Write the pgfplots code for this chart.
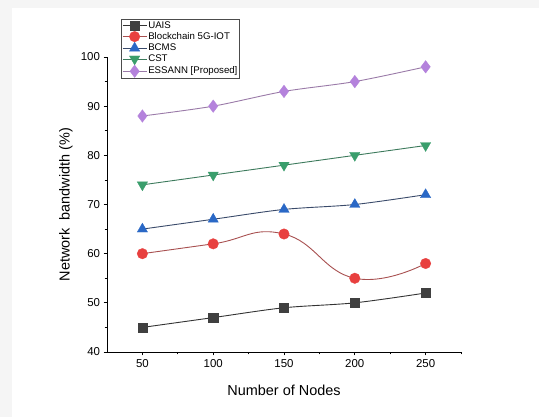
\documentclass[border=0pt]{standalone}
\usepackage{pgfplots}
\pgfplotsset{compat=1.18}
\usepackage{fontspec}
\setmainfont{Liberation Sans}
\definecolor{uaisM}{HTML}{404040}
\definecolor{uaisL}{HTML}{333333}
\definecolor{bcM}{HTML}{E8403F}
\definecolor{bcL}{HTML}{A85050}
\definecolor{bcmsM}{HTML}{2A68C6}
\definecolor{bcmsL}{HTML}{3A4A6A}
\definecolor{cstM}{HTML}{3A9E6C}
\definecolor{cstL}{HTML}{3C7A5C}
\definecolor{esM}{HTML}{B482DC}
\definecolor{esL}{HTML}{9A7AA8}
\begin{document}
\begin{tikzpicture}[x=1bp,y=1bp]
\fill[black!4] (0,0) rectangle (539,417);
\fill[white] (12,0) rectangle (539,409);
\path[use as bounding box] (0,0) rectangle (539,417);
\begin{axis}[
  at={(107bp,65bp)}, anchor=south west,
  scale only axis, width=354bp, height=295bp,
  xmin=25, xmax=275, ymin=40, ymax=100,
  xtick={50,100,150,200,250}, ytick={40,50,60,70,80,90,100},
  minor xtick={75,125,175,225,275}, minor ytick={45,55,65,75,85,95},
  axis x line*=bottom, axis y line*=left,
  axis line style={line width=0.9pt,-},
  tick align=outside, major tick length=3.5pt, minor tick length=2.5pt,
  every tick/.style={black, line width=0.8pt},
  tick label style={font=\fontsize{11.5}{13}\selectfont},
  /pgf/number format/assume math mode=true,
  xlabel={Number of Nodes}, ylabel={Network\ \ bandwidth (\%)},
  label style={font=\fontsize{14.5}{16}\selectfont},
  xlabel style={at={(axis description cs:0.5,-0.129)}, anchor=center},
  ylabel style={at={(axis description cs:-0.116,0.5)}, anchor=center},
  legend style={at={(axis description cs:0.0395,1.129)}, anchor=north west,
    font=\fontsize{9.7}{10.5}\selectfont, draw=black!70, line width=0.6pt,
    inner sep=1pt, row sep=0pt, nodes={inner sep=1.3pt}},
  legend cell align=left,
  legend image code/.code={\draw[mark repeat=2,mark phase=2] plot coordinates {(0cm,0cm) (0.42cm,0cm) (0.84cm,0cm)};},
  every axis plot/.append style={line width=0.9pt, smooth},
]
\addplot[color=uaisL, mark=square*, mark size=4.6pt, mark options={uaisM, fill=uaisM, line width=0.3pt}]
  coordinates {(50,45) (100,47) (150,49) (200,50) (250,52)};
\addlegendentry{UAIS}
\addplot[color=bcL, tension=0.8, mark=*, mark size=5.3pt, mark options={bcM, fill=bcM, line width=0.3pt}]
  coordinates {(50,60) (100,62) (150,64) (200,55) (250,58)};
\addlegendentry{Blockchain 5G-IOT}
\addplot[color=bcmsL, mark=triangle*, mark size=6pt, mark options={bcmsM, fill=bcmsM, line width=0.3pt}]
  coordinates {(50,65) (100,67) (150,69) (200,70) (250,72)};
\addlegendentry{BCMS}
\addplot[color=cstL, mark=triangle*, mark size=6pt, mark options={cstM, fill=cstM, rotate=180, line width=0.3pt}]
  coordinates {(50,74) (100,76) (150,78) (200,80) (250,82)};
\addlegendentry{CST}
\addplot[color=esL, mark=diamond*, mark size=6.3pt, mark options={esM, fill=esM, line width=0.3pt}]
  coordinates {(50,88) (100,90) (150,93) (200,95) (250,98)};
\addlegendentry{ESSANN [Proposed]}
\end{axis}
\end{tikzpicture}
\end{document}
